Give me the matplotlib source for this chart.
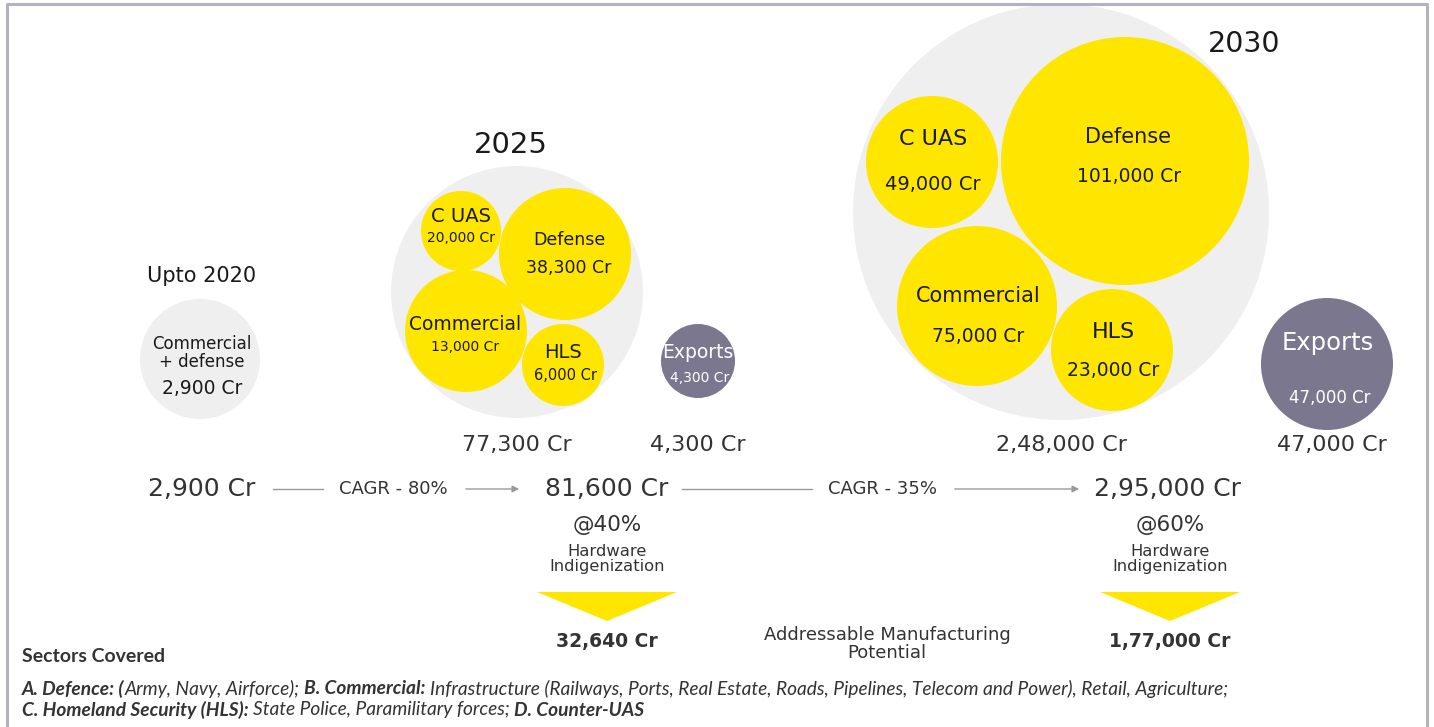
import matplotlib
matplotlib.use("Agg")
import matplotlib.pyplot as plt
from matplotlib import font_manager
from matplotlib.patches import Circle, Polygon

# --- data -------------------------------------------------------------
years = ["Upto 2020", "2025", "2030"]
base_label = "Commercial\n+ defense"
base_value = "2,900 Cr"

seg_2025 = ["C UAS", "Defense", "Commercial", "HLS"]
val_2025 = ["20,000 Cr", "38,300 Cr", "13,000 Cr", "6,000 Cr"]
seg_2030 = ["C UAS", "Defense", "Commercial", "HLS"]
val_2030 = ["49,000 Cr", "101,000 Cr", "75,000 Cr", "23,000 Cr"]
exports = ["4,300 Cr", "47,000 Cr"]
domestic = ["77,300 Cr", "2,48,000 Cr"]
totals = ["2,900 Cr", "81,600 Cr", "2,95,000 Cr"]
cagr = ["CAGR - 80%", "CAGR - 35%"]
indigen = ["@40%", "@60%"]
potential = ["32,640 Cr", "1,77,000 Cr"]

# --- layout (pixel coords) --------------------------------------------
c25 = [(461, 231, 40), (565, 254, 66), (466, 331, 61), (563, 365, 41)]
c30 = [(932, 162, 66), (1125, 161, 124), (977, 306, 80), (1112, 350, 61)]

YEL = "#ffe600"
GRY = "#efefef"
PUR = "#7a778f"
TXT = "#1a1a1a"
DK = "#333333"


def pick(names):
    for n in names:
        try:
            font_manager.findfont(n, fallback_to_default=False)
            return n
        except Exception:
            pass
    return "DejaVu Sans"


narrow = pick(["Lato", "Roboto", "DejaVu Sans"])
plt.rcParams["font.family"] = ["DejaVu Sans"]

fig = plt.figure(figsize=(14.34, 7.27), dpi=100)
ax = fig.add_axes([0, 0, 1, 1])
ax.set_xlim(0, 1434)
ax.set_ylim(727, 0)
ax.axis("off")

# frame
ax.plot([7, 7, 1427, 1427], [727, 4, 4, 727], color="#b3b2c4", lw=2.2, solid_capstyle="butt")


def circ(x, y, r, c):
    ax.add_patch(Circle((x, y), r, color=c, lw=0))


def t(x, y, s, size, **kw):
    kw.setdefault("color", TXT)
    return ax.text(x, y, s, fontsize=size, ha="center", va="center", **kw)


# upto 2020
circ(200, 359, 60, GRY)
t(202, 276, years[0], 15)
t(202, 353, base_label, 12, linespacing=1.0)
t(202, 389, base_value, 13.5)

# 2025 cluster
circ(517, 292, 126, GRY)
t(511, 145, years[1], 21)
for (x, y, r) in c25:
    circ(x, y, r, YEL)
t(461, 216, seg_2025[0], 14)
t(461, 238, val_2025[0], 10)
t(569, 240, seg_2025[1], 12.5)
t(569, 268, val_2025[1], 12.5)
t(465, 324, seg_2025[2], 13.5)
t(465, 347, val_2025[2], 10)
t(563, 352, seg_2025[3], 14)
t(565, 376, val_2025[3], 10.5)

circ(698, 361, 37, PUR)
t(698, 353, "Exports", 13.5, color="white")
t(700, 378, exports[0], 10, color="white")

# 2030 cluster
circ(1061, 212, 208, GRY)
t(1244, 44, years[2], 20.5)
for (x, y, r) in c30:
    circ(x, y, r, YEL)
t(933, 139, seg_2030[0], 16)
t(933, 185, val_2030[0], 14)
t(1128, 137, seg_2030[1], 15)
t(1129, 177, val_2030[1], 13.5)
t(978, 296, seg_2030[2], 15)
t(978, 336, val_2030[2], 13.5)
t(1113, 332, seg_2030[3], 16)
t(1113, 371, val_2030[3], 13.5)

circ(1327, 364, 66, PUR)
t(1328, 343, "Exports", 17.5, color="white")
t(1330, 398, exports[1], 12, color="white")

# values under clusters
t(517, 445, domestic[0], 16, color=DK)
t(698, 445, exports[0], 16, color=DK)
t(1062, 445, domestic[1], 16, color=DK)
t(1332, 445, exports[1], 16, color=DK)

# growth row
yr = 489
t(202, yr, totals[0], 18, color=DK)
t(607, yr, totals[1], 18, color=DK)
t(1168, yr, totals[2], 18, color=DK)
t(393, yr, cagr[0], 13, color=DK)
t(882, yr, cagr[1], 13, color=DK)
lc = "#9a9a9a"
ax.plot([273, 323], [yr, yr], color=lc, lw=1)
ax.annotate("", xy=(522, yr), xytext=(463, yr),
            arrowprops=dict(arrowstyle="-|>", color=lc, lw=1, mutation_scale=10))
ax.plot([682, 812], [yr, yr], color=lc, lw=1)
ax.annotate("", xy=(1082, yr), xytext=(952, yr),
            arrowprops=dict(arrowstyle="-|>", color=lc, lw=1, mutation_scale=10))

# indigenization blocks
for cx, pct, pot in zip([607, 1170], indigen, potential):
    t(cx, 525, pct, 15.5, color=DK)
    t(cx, 559, "Hardware\nIndigenization", 11.8, color=DK, linespacing=1.0)
    ax.add_patch(Polygon([(cx - 70, 592), (cx + 70, 592), (cx, 621)], closed=True, color=YEL, lw=0))
    t(cx, 641, pot, 13.5, color=DK, fontweight="bold")

t(887, 644, "Addressable Manufacturing\nPotential", 13, color=DK, linespacing=1.0)

# footer
ax.text(22, 657, "Sectors Covered", fontsize=14, fontweight="bold", color=DK,
        ha="left", va="center", family=narrow)
line1 = [("A. Defence: (", True), ("Army, Navy, Airforce); ", False), ("B. Commercial: ", True),
         ("Infrastructure (Railways, Ports, Real Estate, Roads, Pipelines, Telecom and Power), Retail, Agriculture;", False)]
line2 = [("C. Homeland Security (HLS): ", True), ("State Police, Paramilitary forces; ", False),
         ("D. Counter-UAS", True)]

rend = fig.canvas.get_renderer()
scale = 1434 / fig.bbox.width


def draw_line(y, parts, size):
    arts = []
    x = 22
    for s, b in parts:
        tx = ax.text(x, y, s, fontsize=size, style="italic", fontweight="bold" if b else "normal",
                     color=DK, ha="left", va="center", family=narrow)
        arts.append(tx)
        x += tx.get_window_extent(rend).width * scale
    return arts, x


arts, xend = draw_line(689, line1, 11)
fsize = 11 * (1230 - 22) / (xend - 22)
for a in arts:
    a.remove()
draw_line(689, line1, fsize)
draw_line(710, line2, fsize)

fig.savefig("out.png", dpi=100)
